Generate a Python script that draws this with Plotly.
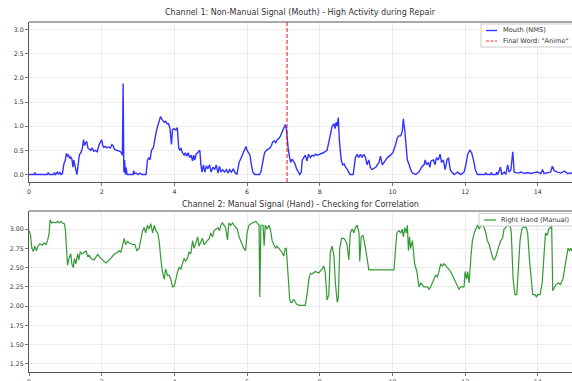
import plotly.graph_objects as go
from plotly.subplots import make_subplots

# ---- Channel 1: mouth (non-manual signal) ----
t_mouth = [0.00, 0.14, 0.16, 0.18, 0.50, 0.53, 0.56, 0.68, 0.70, 0.73, 0.78, 0.81, 0.85, 0.88, 0.92, 0.96,
           1.00, 1.03, 1.06, 1.09, 1.12, 1.15, 1.18, 1.21, 1.23, 1.26, 1.32, 1.36, 1.39, 1.43, 1.47, 1.50,
           1.53, 1.56, 1.59, 1.62, 1.66, 1.70, 1.74, 1.78, 1.83, 1.88, 1.92, 1.96, 2.00, 2.03, 2.06, 2.10,
           2.14, 2.19, 2.24, 2.28, 2.31, 2.35, 2.40, 2.45, 2.50, 2.54, 2.57, 2.59, 2.61, 2.63, 2.65, 2.67,
           2.70, 2.86, 2.88, 2.90, 2.95, 3.00, 3.05, 3.10, 3.22, 3.26, 3.30, 3.33, 3.37, 3.42, 3.46, 3.50,
           3.54, 3.58, 3.62, 3.65, 3.69, 3.72, 3.76, 3.80, 3.84, 3.88, 3.92, 3.95, 3.99, 4.04, 4.08, 4.12,
           4.15, 4.18, 4.22, 4.27, 4.30, 4.34, 4.38, 4.42, 4.46, 4.50, 4.53, 4.56, 4.60, 4.65, 4.70, 4.73,
           4.76, 4.80, 4.84, 4.88, 4.92, 4.97, 5.01, 5.06, 5.11, 5.15, 5.20, 5.24, 5.28, 5.33, 5.38, 5.43,
           5.48, 5.52, 5.57, 5.62, 5.66, 5.72, 5.78, 5.84, 5.88, 5.93, 5.97, 6.00, 6.04, 6.08, 6.12, 6.16,
           6.21, 6.34, 6.38, 6.43, 6.48, 6.53, 6.58, 6.63, 6.67, 6.71, 6.75, 6.79, 6.83, 6.88, 6.92, 6.96,
           7.00, 7.05, 7.08, 7.10, 7.13, 7.17, 7.20, 7.24, 7.28, 7.32, 7.36, 7.40, 7.45, 7.49, 7.52, 7.56,
           7.60, 7.65, 7.69, 7.74, 7.79, 7.84, 7.88, 7.93, 8.02, 8.10, 8.20, 8.25, 8.30, 8.34, 8.39, 8.42,
           8.45, 8.48, 8.51, 8.54, 8.59, 8.63, 8.67, 8.71, 8.76, 8.83, 8.92, 8.98, 9.03, 9.07, 9.12, 9.16,
           9.21, 9.26, 9.30, 9.35, 9.39, 9.44, 9.49, 9.54, 9.63, 9.67, 9.72, 9.76, 9.86, 9.95, 10.01, 10.08,
           10.13, 10.17, 10.23, 10.27, 10.30, 10.34, 10.37, 10.41, 10.46, 10.50, 10.55, 10.64, 10.73, 10.80,
           10.87, 10.90, 10.94, 10.99, 11.03, 11.06, 11.13, 11.17, 11.21, 11.26, 11.31, 11.35, 11.40, 11.45,
           11.50, 11.54, 11.59, 11.63, 11.70, 11.79, 11.88, 11.97, 12.02, 12.07, 12.13, 12.18, 12.23, 12.28,
           12.34, 12.55, 12.57, 12.60, 12.70, 12.72, 12.75, 12.85, 12.87, 12.90, 12.97, 13.01, 13.08, 13.12,
           13.17, 13.21, 13.26, 13.31, 13.35, 13.45, 13.54, 13.63, 13.72, 13.81, 13.90, 13.99, 14.08, 14.13,
           14.17, 14.26, 14.35, 14.40, 14.45, 14.54, 14.63, 14.73, 14.82, 14.94, 15.00]
mouth = [0.0, 0.0, 0.04, 0.0, 0.0, 0.04, 0.0, 0.0, 0.04, 0.0, 0.05, 0.0, 0.05, 0.0, 0.02, 0.22,
         0.30, 0.44, 0.38, 0.40, 0.33, 0.36, 0.32, 0.15, 0.30, 0.20, 0.0, 0.25, 0.42, 0.45, 0.55, 0.72,
         0.60, 0.66, 0.68, 0.55, 0.52, 0.50, 0.55, 0.48, 0.50, 0.47, 0.60, 0.66, 0.72, 0.60, 0.56, 0.58,
         0.55, 0.57, 0.55, 0.62, 0.60, 0.52, 0.51, 0.50, 0.48, 0.45, 0.40, 1.88, 0.05, 0.30, 0.0, 0.15,
         0.0, 0.0, 0.08, 0.02, 0.03, 0.0, 0.03, 0.0, 0.0, 0.30, 0.35, 0.30, 0.50, 0.55, 0.75, 0.88,
         1.00, 1.08, 1.20, 1.15, 1.12, 1.08, 1.10, 1.05, 1.05, 0.95, 0.62, 0.93, 0.95, 0.92, 0.97, 0.55,
         0.50, 0.55, 0.45, 0.40, 0.45, 0.38, 0.45, 0.35, 0.40, 0.28, 0.40, 0.30, 0.42, 0.47, 0.50, 0.20,
         0.05, 0.20, 0.05, 0.18, 0.12, 0.20, 0.05, 0.15, 0.10, 0.20, 0.03, 0.17, 0.05, 0.10, 0.05, 0.10,
         0.03, 0.10, 0.05, 0.12, 0.05, 0.0, 0.25, 0.35, 0.42, 0.50, 0.58, 0.50, 0.45, 0.40, 0.20, 0.05,
         0.0, 0.0, 0.05, 0.30, 0.45, 0.50, 0.52, 0.55, 0.60, 0.68, 0.70, 0.65, 0.72, 0.75, 0.80, 0.88,
         0.95, 1.03, 0.95, 0.72, 0.55, 0.35, 0.25, 0.32, 0.28, 0.22, 0.12, 0.05, 0.0, 0.05, 0.30, 0.35,
         0.40, 0.28, 0.42, 0.35, 0.40, 0.38, 0.42, 0.40, 0.42, 0.45, 0.50, 0.65, 0.85, 1.00, 1.05, 0.95,
         1.08, 1.00, 1.18, 0.70, 0.30, 0.20, 0.22, 0.15, 0.10, 0.0, 0.0, 0.35, 0.42, 0.35, 0.42, 0.35,
         0.42, 0.35, 0.20, 0.30, 0.15, 0.10, 0.12, 0.15, 0.25, 0.38, 0.20, 0.25, 0.35, 0.40, 0.45, 0.60,
         0.75, 0.80, 0.80, 0.90, 1.15, 0.90, 0.60, 0.30, 0.20, 0.10, 0.03, 0.0, 0.05, 0.15,
         0.20, 0.30, 0.20, 0.25, 0.15, 0.28, 0.30, 0.20, 0.35, 0.30, 0.42, 0.25, 0.30, 0.10,
         0.30, 0.35, 0.10, 0.05, 0.0, 0.05, 0.0, 0.05, 0.20, 0.42, 0.50, 0.45, 0.30, 0.10,
         0.0, 0.0, 0.03, 0.0, 0.0, 0.04, 0.0, 0.0, 0.05, 0.0, 0.15, 0.0, 0.05, 0.0,
         0.20, 0.05, 0.10, 0.47, 0.05, 0.03, 0.05, 0.02, 0.04, 0.02, 0.04, 0.05, 0.02, 0.10,
         0.02, 0.03, 0.05, 0.17, 0.08, 0.05, 0.03, 0.07, 0.02, 0.03, 0.02]

# ---- Channel 2: right hand (manual signal) ----
t_hand = [0.00, 0.04, 0.08, 0.12, 0.16, 0.20, 0.25, 0.30, 0.36, 0.42, 0.47, 0.51, 0.55, 0.58, 0.62, 0.67,
          0.74, 0.79, 0.83, 0.88, 0.92, 0.97, 1.00, 1.03, 1.06, 1.10, 1.15, 1.18, 1.22, 1.25, 1.29, 1.34,
          1.37, 1.41, 1.46, 1.53, 1.57, 1.61, 1.66, 1.70, 1.79, 1.89, 1.93, 1.98, 2.07, 2.12, 2.21, 2.30,
          2.36, 2.44, 2.48, 2.53, 2.57, 2.62, 2.66, 2.71, 2.76, 2.85, 2.91, 2.97, 3.03, 3.08, 3.12, 3.17,
          3.21, 3.26, 3.30, 3.35, 3.40, 3.45, 3.49, 3.54, 3.58, 3.63, 3.67, 3.72, 3.76, 3.81, 3.86, 3.90,
          3.95, 4.00, 4.04, 4.09, 4.13, 4.18, 4.22, 4.27, 4.31, 4.36, 4.40, 4.45, 4.50, 4.54, 4.59, 4.64,
          4.68, 4.73, 4.77, 4.82, 4.91, 4.96, 5.00, 5.05, 5.09, 5.14, 5.20, 5.24, 5.28, 5.32, 5.37, 5.41,
          5.46, 5.50, 5.55, 5.60, 5.64, 5.69, 5.73, 5.78, 5.82, 5.87, 5.91, 5.96, 6.00, 6.05, 6.14, 6.24,
          6.28, 6.33, 6.35, 6.38, 6.44, 6.47, 6.50, 6.55, 6.60, 6.64, 6.69, 6.73, 6.78, 6.82, 6.87, 6.91,
          6.96, 7.01, 7.05, 7.08, 7.12, 7.17, 7.20, 7.24, 7.28, 7.33, 7.37, 7.45, 7.60, 7.65, 7.70, 7.74,
          7.79, 7.88, 7.97, 8.06, 8.11, 8.15, 8.18, 8.20, 8.25, 8.29, 8.34, 8.39, 8.43, 8.48, 8.51, 8.55,
          8.60, 8.66, 8.71, 8.75, 8.80, 8.84, 8.89, 8.94, 8.98, 9.03, 9.08, 9.10, 9.14, 9.19, 9.26, 9.30,
          9.35, 10.04, 10.07, 10.12, 10.18, 10.23, 10.27, 10.30, 10.34, 10.38, 10.41, 10.44, 10.47, 10.50,
          10.55, 10.58, 10.61, 10.67, 10.73, 10.78, 10.82, 10.87, 10.96, 11.01, 11.05, 11.15, 11.19, 11.24,
          11.28, 11.33, 11.37, 11.42, 11.51, 11.60, 11.65, 11.70, 11.74, 11.79, 11.83, 11.88, 11.97, 12.00,
          12.04, 12.07, 12.11, 12.16, 12.20, 12.25, 12.30, 12.34, 12.39, 12.43, 12.48, 12.52, 12.57, 12.61,
          12.66, 12.71, 12.76, 12.80, 12.85, 12.89, 12.94, 12.98, 13.03, 13.07, 13.12, 13.16, 13.21, 13.25,
          13.27, 13.29, 13.32, 13.37, 13.42, 13.46, 13.51, 13.56, 13.61, 13.68, 13.72, 13.77, 13.82, 13.86,
          13.92, 13.96, 14.00, 14.06, 14.12, 14.15, 14.18, 14.21, 14.26, 14.30, 14.35, 14.38, 14.41, 14.46,
          14.50, 14.57, 14.62, 14.69, 14.73, 14.78, 14.83, 14.87, 14.91, 14.94, 15.00]
hand = [2.98, 2.93, 2.75, 2.71, 2.78, 2.72, 2.78, 2.81, 2.79, 2.82, 2.80, 2.85, 2.93, 3.12, 3.08, 3.09,
        3.08, 3.10, 3.08, 3.10, 3.08, 3.07, 3.00, 2.80, 2.53, 2.62, 2.68, 2.55, 2.50, 2.62, 2.55, 2.68,
        2.60, 2.70, 2.68, 2.70, 2.72, 2.65, 2.66, 2.62, 2.60, 2.67, 2.64, 2.62, 2.58, 2.56, 2.60, 2.64,
        2.68, 2.70, 2.72, 2.70, 2.78, 2.88, 2.80, 2.84, 2.82, 2.80, 2.80, 2.72, 2.75, 2.90, 2.97, 3.02,
        2.95, 3.05, 3.00, 3.07, 2.95, 3.05, 2.98, 2.95, 2.85, 2.60, 2.45, 2.35, 2.48, 2.40, 2.40, 2.35,
        2.25, 2.26, 2.35, 2.45, 2.50, 2.48, 2.55, 2.62, 2.58, 2.62, 2.70, 2.68, 2.85, 2.75, 2.82, 2.90,
        2.78, 2.85, 2.88, 2.80, 2.85, 2.88, 2.95, 2.90, 2.98, 3.00, 3.02, 2.98, 3.05, 3.08, 3.05, 3.02,
        2.86, 3.08, 3.05, 3.08, 3.05, 3.02, 3.00, 2.90, 2.85, 2.80, 2.75, 2.72, 2.95, 3.05, 3.08, 3.10,
        3.08, 3.05, 2.12, 3.05, 3.05, 2.78, 3.05, 3.00, 3.05, 3.00, 2.85, 2.80, 2.75, 2.78, 2.75, 2.72,
        2.70, 2.65, 2.75, 2.75, 2.50, 2.10, 2.05, 2.05, 2.09, 2.05, 2.02, 2.01, 2.01, 2.15, 2.35, 2.42,
        2.42, 2.45, 2.43, 2.48, 2.52, 2.45, 2.20, 2.08, 2.15, 2.70, 2.78, 2.65, 2.30, 2.05, 2.10, 2.75,
        2.88, 2.88, 2.85, 2.80, 2.60, 2.95, 3.00, 2.95, 3.02, 3.05, 2.95, 2.58, 2.90, 2.92, 2.75, 2.60,
        2.47, 2.47, 2.70, 2.95, 2.98, 2.95, 3.00, 2.90, 3.02, 2.95, 3.05, 2.72, 2.90, 2.75,
        2.85, 2.65, 2.55, 2.45, 2.25, 2.30, 2.28, 2.25, 2.25, 2.22, 2.25, 2.35, 2.40, 2.38,
        2.45, 2.55, 2.52, 2.55, 2.50, 2.45, 2.40, 2.35, 2.30, 2.25, 2.22, 2.25, 2.25, 2.45,
        2.35, 2.45, 2.30, 2.65, 2.85, 2.95, 3.00, 3.05, 3.00, 3.05, 3.05, 3.02, 2.95, 2.85,
        2.80, 2.72, 2.62, 2.60, 2.65, 2.72, 2.78, 2.85, 2.88, 3.00, 3.02, 3.05, 3.05, 3.02,
        2.95, 2.70, 2.35, 2.15, 2.15, 2.45, 2.85, 3.00, 3.03, 3.02, 2.95, 2.60, 2.30, 2.15,
        2.15, 2.12, 2.15, 2.15, 2.30, 2.55, 2.75, 2.95, 2.92, 3.00, 3.02, 3.05, 2.20, 2.25,
        2.28, 2.30, 2.28, 2.35, 2.45, 2.60, 2.75, 2.72, 2.75, 2.72, 2.75]

final_word_t = [7.1, 7.1]
final_word_y = [-0.155, 3.155]

x_ticks = [0, 2, 4, 6, 8, 10, 12, 14]
y1_ticks = [0.0, 0.5, 1.0, 1.5, 2.0, 2.5, 3.0]
y2_ticks = [1.25, 1.50, 1.75, 2.00, 2.25, 2.50, 2.75, 3.00]

titles = ["Channel 1: Non-Manual Signal (Mouth) - High Activity during Repair",
          "Channel 2: Manual Signal (Hand) - Checking for Correlation"]
legend_labels = ["Mouth (NMS)", 'Final Word: "Anime"', "Right Hand (Manual)"]

FONT = "DejaVu Sans"
TXT = "#333333"
GRID = "#e9e9e9"
SPINE = "#555555"
BLUE = "rgba(0,0,255,0.8)"
RED = "rgba(255,0,0,0.8)"
GREEN = "rgba(0,128,0,0.8)"

W, H = 572, 381
ML, MR, MT, MB = 29, 0, 22, 9
PW, PH = W - ML - MR, H - MT - MB


def px(xp):
    return (xp - ML) / PW


def py(yp):
    return (H - MB - yp) / PH


fig = make_subplots(rows=2, cols=1)

fig.add_trace(go.Scatter(x=t_mouth, y=mouth, mode="lines", name=legend_labels[0],
                         line=dict(color=BLUE, width=1.4), showlegend=False),
              row=1, col=1)
fig.add_trace(go.Scatter(x=final_word_t, y=final_word_y, mode="lines", name=legend_labels[1],
                         line=dict(color=RED, width=1.2, dash="4px,2px"), showlegend=False),
              row=1, col=1)
fig.add_trace(go.Scatter(x=t_hand, y=hand, mode="lines", name=legend_labels[2],
                         line=dict(color=GREEN, width=1.2), showlegend=False),
              row=2, col=1)

axis_common = dict(showgrid=True, gridcolor=GRID, gridwidth=0.8, zeroline=False,
                   showline=True, linecolor=SPINE, linewidth=1, automargin=False,
                   ticks="outside", ticklen=3, tickcolor=SPINE, tickwidth=0.8,
                   tickfont=dict(family=FONT, size=6.3, color=TXT))

fig.update_xaxes(**axis_common, range=[0, 14.94], tickvals=x_ticks, mirror=False)
fig.update_yaxes(**axis_common, mirror=False)
fig.update_yaxes(range=[-0.155, 3.155], tickvals=y1_ticks, tickformat=".1f", row=1, col=1)
fig.update_yaxes(range=[1.145, 3.235], tickvals=y2_ticks, tickformat=".2f", row=2, col=1)

top1, bot1 = py(22), py(182)
top2, bot2 = py(211), 0.0

shapes = [
    # top spines (right spine falls outside the picture)
    dict(type="line", xref="paper", yref="paper", x0=0, x1=1.01, y0=top1, y1=top1,
         line=dict(color=SPINE, width=1)),
    dict(type="line", xref="paper", yref="paper", x0=0, x1=1.01, y0=top2, y1=top2,
         line=dict(color=SPINE, width=1)),
    # legend 1 box and swatches
    dict(type="rect", xref="paper", yref="paper", x0=px(481), x1=px(576), y0=py(47), y1=py(24),
         fillcolor="rgba(255,255,255,0.85)", line=dict(color="#cccccc", width=1), layer="above"),
    dict(type="line", xref="paper", yref="paper", x0=px(486), x1=px(497), y0=py(30.5), y1=py(30.5),
         line=dict(color=BLUE, width=1.4), layer="above"),
    dict(type="line", xref="paper", yref="paper", x0=px(486), x1=px(497), y0=py(41), y1=py(41),
         line=dict(color=RED, width=1.2, dash="3px,1.5px"), layer="above"),
    # legend 2 box and swatch
    dict(type="rect", xref="paper", yref="paper", x0=px(479), x1=px(576), y0=py(226), y1=py(213.5),
         fillcolor="rgba(255,255,255,0.85)", line=dict(color="#cccccc", width=1), layer="above"),
    dict(type="line", xref="paper", yref="paper", x0=px(484), x1=px(496), y0=py(220), y1=py(220),
         line=dict(color=GREEN, width=1.2), layer="above"),
]

ann = [
    dict(text=titles[0], x=7.47, xref="x", y=py(12.5), yref="paper", showarrow=False,
         xanchor="center", yanchor="middle", font=dict(family=FONT, size=8, color=TXT)),
    dict(text=titles[1], x=7.47, xref="x2", y=py(204), yref="paper", showarrow=False,
         xanchor="center", yanchor="middle", font=dict(family=FONT, size=8, color=TXT)),
    dict(text=legend_labels[0], x=px(501), xref="paper", y=py(30.5), yref="paper", showarrow=False,
         xanchor="left", yanchor="middle", font=dict(family=FONT, size=6.6, color=TXT)),
    dict(text=legend_labels[1], x=px(501), xref="paper", y=py(41), yref="paper", showarrow=False,
         xanchor="left", yanchor="middle", font=dict(family=FONT, size=6.6, color=TXT)),
    dict(text=legend_labels[2], x=px(499), xref="paper", y=py(220), yref="paper", showarrow=False,
         xanchor="left", yanchor="middle", font=dict(family=FONT, size=6.6, color=TXT)),
]

fig.update_layout(
    width=W, height=H,
    margin=dict(l=ML, r=MR, t=MT, b=MB, autoexpand=False),
    paper_bgcolor="white", plot_bgcolor="white",
    showlegend=False,
    hovermode=False,
    yaxis=dict(domain=[bot1, top1]),
    yaxis2=dict(domain=[bot2, top2]),
    shapes=shapes,
    annotations=ann,
)

fig.write_html("out.html",
               config={"displayModeBar": False, "staticPlot": True},
               post_script="document.body.style.margin='0';document.body.style.overflow='hidden';")
